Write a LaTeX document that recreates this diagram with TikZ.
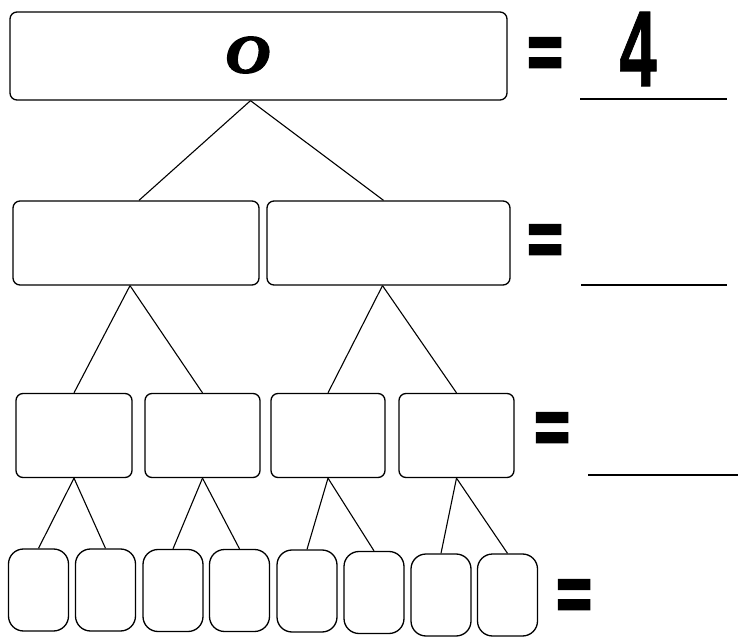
\documentclass[tikz,border=0pt]{standalone}
\usepackage{fontspec}
\setmainfont{Liberation Serif}
\newfontfamily\eqfont[FakeBold=4]{Liberation Sans Bold}
\newfontfamily\numfont[FakeBold=1]{Liberation Sans Bold}
\newfontfamily\ofont[FakeBold=3]{Liberation Serif Bold Italic}
\begin{document}
\begin{tikzpicture}[x=1pt,y=-1pt,
  bx/.style={draw, line width=1.3pt, rounded corners=7pt, inner sep=0pt},
  leaf/.style={draw, line width=1.3pt, rounded corners=15pt, inner sep=0pt, minimum width=60pt, minimum height=82pt},
  mid/.style={bx, minimum width=115pt, minimum height=84pt},
  conn/.style={line width=1.1pt},
  eq/.style={inner sep=0pt, font=\eqfont\fontsize{60}{60}\selectfont, yscale=1.25},
  blank/.style={line width=1.4pt}]
\useasboundingbox (0,0) rectangle (753,639);
% level 1
\node[bx, minimum width=497pt, minimum height=88pt] (top) at (258.5,56) {};
\node[inner sep=0pt, font=\ofont\fontsize{54}{54}\selectfont, xscale=1.15] (o) at (248,55) {O};
% level 2
\node[bx, minimum width=246pt, minimum height=84pt] (b1) at (136,243) {};
\node[bx, minimum width=243pt, minimum height=84pt] (b2) at (388.5,243) {};
% level 3
\node[mid, minimum width=116pt] (c1) at (74,435.5) {};
\node[mid] (c2) at (202.5,435.5) {};
\node[mid, minimum width=114pt] (c3) at (328,435.5) {};
\node[mid] (c4) at (456.5,435.5) {};
% level 4
\node[leaf] (d1) at (38.5,590) {};
\node[leaf] (d2) at (105.5,590) {};
\node[leaf] (d3) at (173,590.5) {};
\node[leaf] (d4) at (239.5,590.5) {};
\node[leaf] (d5) at (307,591) {};
\node[leaf] (d6) at (374,592.5) {};
\node[leaf] (d7) at (441,595) {};
\node[leaf] (d8) at (507.5,595) {};
% connectors
\draw[conn] ([xshift=-8pt]top.south) -- ([xshift=3pt]b1.north);
\draw[conn] ([xshift=-8pt]top.south) -- ([xshift=-5pt]b2.north);
\draw[conn] ([xshift=-6pt]b1.south) -- (c1.north);
\draw[conn] ([xshift=-6pt]b1.south) -- (c2.north);
\draw[conn] ([xshift=-6pt]b2.south) -- (c3.north);
\draw[conn] ([xshift=-6pt]b2.south) -- (c4.north);
\draw[conn] (c1.south) -- (d1.north);
\draw[conn] (c1.south) -- (d2.north);
\draw[conn] (c2.south) -- (d3.north);
\draw[conn] (c2.south) -- (d4.north);
\draw[conn] (c3.south) -- (d5.north);
\draw[conn] (c3.south) -- (d6.north);
\draw[conn] (c4.south) -- (d7.north);
\draw[conn] (c4.south) -- (d8.north);
% equals signs
\node[eq] (e1) at (545,58) {=};
\node[eq] (e2) at (545,245) {=};
\node[eq] (e3) at (552,433) {=};
\node[eq] (e4) at (574,600) {=};
% answer and blanks
\node[inner sep=0pt, font=\numfont\fontsize{108}{108}\selectfont, xscale=0.62] (four) at (638,49) {4};
\coordinate (u1a) at (580,99); \coordinate (u1b) at (727,99);
\coordinate (u2a) at (581,285); \coordinate (u2b) at (727,285);
\coordinate (u3a) at (588,475); \coordinate (u3b) at (738,475);
\draw[blank] (u1a) -- (u1b);
\draw[blank] (u2a) -- (u2b);
\draw[blank] (u3a) -- (u3b);
\end{tikzpicture}
\end{document}
